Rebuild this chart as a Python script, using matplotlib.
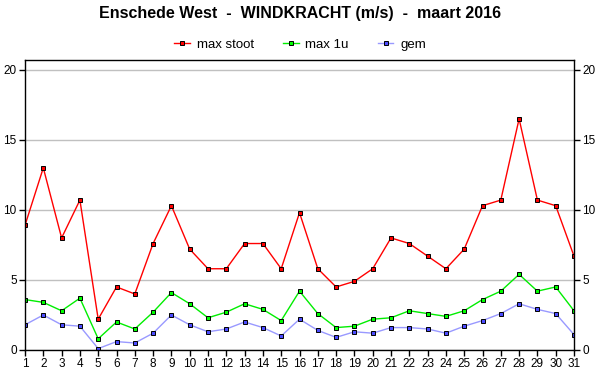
import matplotlib
matplotlib.use('Agg')
import matplotlib.pyplot as plt
import numpy as np

plt.rcParams['font.family'] = ['Liberation Sans', 'DejaVu Sans']

days = list(range(1, 32))
max_stoot = [8.9, 13.0, 8.0, 10.7, 2.2, 4.5, 4.0, 7.6, 10.3, 7.2,
             5.8, 5.8, 7.6, 7.6, 5.8, 9.8, 5.8, 4.5, 4.9, 5.8,
             8.0, 7.6, 6.7, 5.8, 7.2, 10.3, 10.7, 16.5, 10.7, 10.3, 6.7]
max_1u = [3.6, 3.4, 2.8, 3.7, 0.8, 2.0, 1.5, 2.7, 4.1, 3.3,
          2.3, 2.7, 3.3, 2.9, 2.1, 4.2, 2.6, 1.6, 1.7, 2.2,
          2.3, 2.8, 2.6, 2.4, 2.8, 3.6, 4.2, 5.4, 4.2, 4.5, 2.8]
gem = [1.8, 2.5, 1.8, 1.7, 0.1, 0.6, 0.5, 1.2, 2.5, 1.8,
       1.3, 1.5, 2.0, 1.6, 1.0, 2.2, 1.4, 0.9, 1.3, 1.2,
       1.6, 1.6, 1.5, 1.2, 1.7, 2.1, 2.6, 3.3, 2.9, 2.6, 1.1]

series = [
    ('max stoot', max_stoot, '#ff0000', '#ff0000'),
    ('max 1u', max_1u, '#00ee00', '#00ff00'),
    ('gem', gem, '#9999ff', '#4c4cff'),
]

fig = plt.figure(figsize=(6, 3.9), dpi=100)
ax = fig.add_axes([25 / 600, 40 / 390, 549 / 600, 290 / 390])

for label, vals, lc, mc in series:
    ax.plot(days, vals, color=lc, linewidth=1.0, marker='s', markersize=3,
            markerfacecolor=mc, markeredgecolor='black',
            markeredgewidth=0.7, label=label)

ax.set_xlim(1, 31)
ax.set_ylim(0, 20.7)
ax.set_xticks(days)
ax.set_yticks([0, 5, 10, 15, 20])
ax.yaxis.grid(True, color='#c0c0c0', linewidth=1.0)
ax.set_axisbelow(True)
ax.tick_params(axis='both', labelsize=8.5, length=4, width=1, pad=2,
               direction='out')
ax.tick_params(axis='y', right=True, labelright=True)
for sp in ax.spines.values():
    sp.set_linewidth(1.0)

fig.suptitle('Enschede West  -  WINDKRACHT (m/s)  -  maart 2016',
             fontsize=11.5, fontweight='bold', y=0.985)
fig.legend(loc='center', bbox_to_anchor=(0.5, 0.885), ncol=3,
           frameon=False, fontsize=9.5, handlelength=1.2,
           columnspacing=2.2, handletextpad=0.5)

fig.savefig('out.png', dpi=100)
